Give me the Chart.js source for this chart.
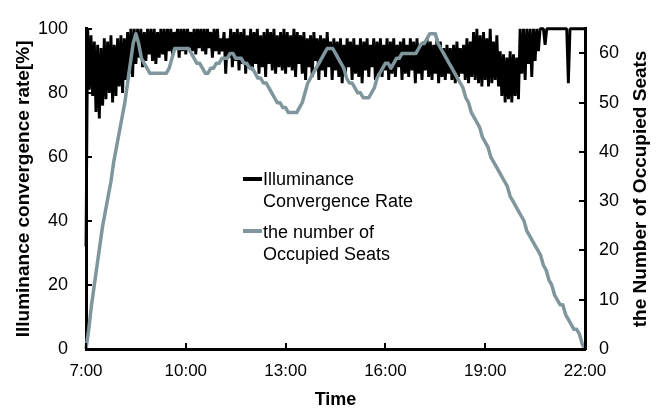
<!DOCTYPE html>
<html><head><meta charset="utf-8">
<script src="https://cdn.jsdelivr.net/npm/chart.js@4.4.1/dist/chart.umd.min.js"></script>
<style>html,body{margin:0;padding:0;background:#fff;}#wrap{width:656px;height:411px;position:relative;}</style>
</head><body><div id="wrap"><canvas id="c" width="656" height="411"></canvas></div>
<script>
// ---- data ----
const xTickLabels = ['7:00', '10:00', '13:00', '16:00', '19:00', '22:00'];
const leftTickValues = [0, 20, 40, 60, 80, 100];
const rightTickValues = [0, 10, 20, 30, 40, 50, 60];
const rateStepMinutes = 3;  // illuminance samples every 3 minutes from 7:00
const seatStepMinutes = 5;  // seat counts every 5 minutes from 7:00
const seriesNames = [['Illuminance', 'Convergence Rate'], ['the number of', 'Occupied Seats']];
const leftAxisTitle = 'Illuminance convergence rate[%]';
const rightAxisTitle = 'the Number of Occupied Seats';
const xAxisTitle = 'Time';

// Illuminance convergence rate [%] (every 3 min)
const illuminanceRate = [
  32,100,81,98,79,96,74,95,72,94,
  76,97,78,96,80,98,77,95,79,97,
  82,98,80,97,84,99,86,100,85,100,
  89,100,91,100,88,99,90,100,92,100,
  90,100,89,99,91,100,92,100,90,100,
  93,100,92,99,94,100,91,100,93,100,
  92,100,94,99,93,100,92,100,94,100,
  93,100,92,100,94,99,91,100,93,100,
  92,97,93,99,86,97,91,100,88,99,
  90,100,87,99,89,100,86,98,88,100,
  87,99,89,100,86,98,88,99,85,100,
  89,99,87,100,86,98,88,99,87,100,
  86,99,88,98,87,100,85,99,89,98,
  86,99,84,97,88,98,85,99,90,97,
  84,98,87,97,85,99,88,96,84,97,
  87,96,85,97,83,95,86,97,88,96,
  84,97,86,95,85,97,83,96,87,97,
  85,95,88,97,84,96,86,97,85,95,
  87,97,84,96,86,97,85,95,88,96,
  84,97,86,95,85,97,87,96,83,97,
  86,95,84,96,87,97,85,96,84,95,
  86,97,83,96,85,94,84,95,86,94,
  84,95,83,96,85,94,86,95,84,97,
  83,96,85,99,84,100,83,98,82,99,
  84,97,82,100,83,96,84,98,82,93,
  79,92,77,91,78,93,77,92,79,91,
  78,100,86,100,84,100,89,100,85,100,
  90,100,93,100,100,100,95,100,100,100,
  100,100,100,100,100,100,100,100,100,100,
  83,100,100,100,100,100,100,100,100,100,
  100
];

// Number of occupied seats (every 5 min)
const occupiedSeats = [
  0,4,9,13,17,21,25,28,31,34,
  38,41,44,47,50,54,58,62,64,62,
  59,58,57,56,56,56,56,56,56,56,
  57,59,61,61,61,61,61,61,60,59,
  58,58,57,56,56,57,57,58,58,59,
  59,59,60,60,59,59,59,58,58,57,
  57,56,55,55,54,54,53,52,51,50,
  50,49,49,48,48,48,48,49,50,52,
  54,55,56,57,58,59,60,61,61,61,
  60,59,58,57,55,54,54,53,52,52,
  51,51,51,52,53,55,56,57,58,58,
  57,58,59,59,60,60,60,60,60,60,
  61,62,62,63,64,64,64,62,61,60,
  59,58,57,56,55,54,53,51,50,48,
  47,46,45,43,42,41,39,38,37,36,
  35,34,33,31,30,29,28,27,26,24,
  23,22,21,20,19,17,16,14,13,11,
  10,9,9,7,6,5,4,4,3,1,
  0
];

// ---- styles ----
const BLACK = '#000000';
const SEAT = '#7f969d';
const FONT = '"Liberation Sans", Arial, Helvetica, sans-serif';

const toPts = (arr, step) => arr.map((v, i) => ({ x: i * step, y: v }));
const spanMinutes = (xTickLabels.length - 1) * 180;

const decor = {
  id: 'decor',
  afterDraw(chart) {
    const { ctx, chartArea: a, scales } = chart;
    const x = scales.x, y = scales.y, y2 = scales.y2;
    ctx.save();
    ctx.strokeStyle = BLACK;
    ctx.lineWidth = 2;
    ctx.beginPath();
    leftTickValues.forEach(v => { const p = Math.round(y.getPixelForValue(v)); ctx.moveTo(a.left, p); ctx.lineTo(a.left + 6, p); });
    rightTickValues.forEach(v => { const p = Math.round(y2.getPixelForValue(v)); ctx.moveTo(a.right, p); ctx.lineTo(a.right - 6, p); });
    xTickLabels.forEach((l, i) => { const p = Math.round(x.getPixelForValue(i * 180)); ctx.moveTo(p, a.bottom); ctx.lineTo(p, a.bottom - 6); });
    ctx.stroke();

    // right axis title (reads bottom to top)
    ctx.fillStyle = BLACK;
    ctx.font = 'bold 19px ' + FONT;
    ctx.textAlign = 'center';
    ctx.textBaseline = 'middle';
    ctx.translate(641, (a.top + a.bottom) / 2);
    ctx.rotate(-Math.PI / 2);
    ctx.fillText(rightAxisTitle, 0, 0);
    ctx.restore();

    // legend
    ctx.save();
    ctx.font = '18px ' + FONT;
    ctx.fillStyle = BLACK;
    ctx.textAlign = 'left';
    ctx.textBaseline = 'middle';
    const items = [
      { color: BLACK, width: 4, lineY: 179, textY: [180, 202] },
      { color: SEAT, width: 4, lineY: 231, textY: [233, 255] }
    ];
    items.forEach((it, k) => {
      ctx.strokeStyle = it.color;
      ctx.lineWidth = it.width;
      ctx.beginPath();
      ctx.moveTo(243, it.lineY); ctx.lineTo(262, it.lineY);
      ctx.stroke();
      seriesNames[k].forEach((t, j) => ctx.fillText(t, 263, it.textY[j]));
    });
    ctx.restore();
  }
};

new Chart(document.getElementById('c'), {
  type: 'line',
  data: {
    datasets: [
      { label: seriesNames[1].join(' '), data: toPts(occupiedSeats, seatStepMinutes), yAxisID: 'y2', borderColor: SEAT, borderWidth: 3.5, pointRadius: 0, fill: false, tension: 0, order: 0, clip: 6, borderJoinStyle: 'round' },
      { label: seriesNames[0].join(' '), data: toPts(illuminanceRate, rateStepMinutes), yAxisID: 'y', borderColor: BLACK, borderWidth: 2.9, pointRadius: 0, fill: false, tension: 0, order: 1, clip: 6, borderJoinStyle: 'bevel' }
    ]
  },
  options: {
    responsive: false,
    animation: false,
    devicePixelRatio: 1,
    layout: { padding: { top: 14, left: 0, right: 0, bottom: 0 } },
    plugins: { legend: { display: false }, tooltip: { enabled: false } },
    scales: {
      x: {
        type: 'linear', min: 0, max: spanMinutes,
        grid: { display: false, drawTicks: false },
        border: { display: true, color: BLACK, width: 3 },
        ticks: { stepSize: 180, padding: 12, color: BLACK, font: { family: FONT, size: 17 }, maxRotation: 0,
          callback: v => xTickLabels[v / 180] },
        title: { display: true, text: xAxisTitle, color: BLACK, font: { family: FONT, size: 18, weight: 'bold' }, padding: { top: 2, bottom: 0 } },
        afterFit: s => { s.height = 62; }
      },
      y: {
        position: 'left', min: 0, max: 100,
        grid: { display: false, drawTicks: false },
        border: { display: true, color: BLACK, width: 3 },
        ticks: { stepSize: 20, padding: 18, color: BLACK, font: { family: FONT, size: 18 } },
        title: { display: true, text: leftAxisTitle, color: BLACK, font: { family: FONT, size: 19, weight: 'bold' }, padding: { top: 12, bottom: 0 } },
        afterFit: s => { s.width = 86; }
      },
      y2: {
        position: 'right', min: 0, max: 65,
        grid: { display: false, drawTicks: false },
        border: { display: true, color: BLACK, width: 3 },
        ticks: { stepSize: 10, padding: 14, color: BLACK, font: { family: FONT, size: 18 },
          callback: v => (rightTickValues.includes(v) ? v : null) },
        afterFit: s => { s.width = 71; }
      }
    }
  },
  plugins: [decor]
});
</script></body></html>
